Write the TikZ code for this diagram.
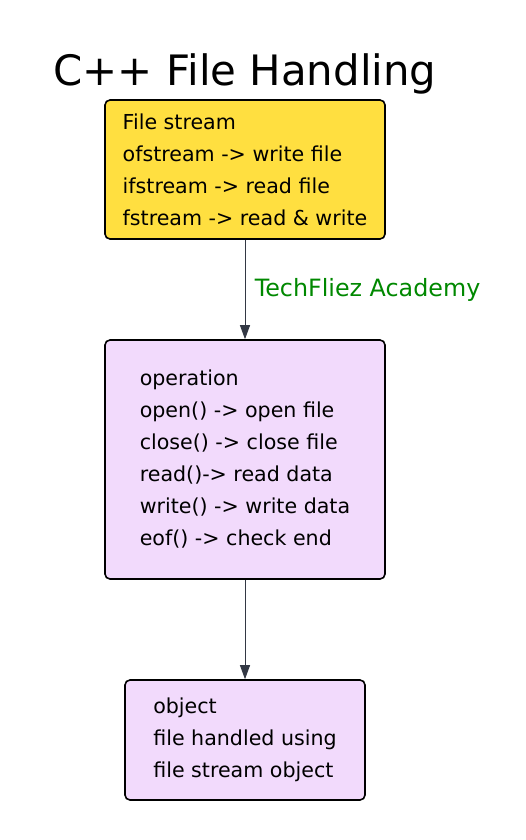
\documentclass[tikz,border=0pt]{standalone}
\usepackage{fontspec}
\setmainfont{DejaVu Sans}
\usetikzlibrary{arrows.meta}
\definecolor{boxyellow}{RGB}{255,223,64}
\definecolor{boxlilac}{RGB}{242,218,252}
\definecolor{edgegray}{RGB}{51,56,68}
\definecolor{labelgreen}{RGB}{0,136,0}

\begin{document}
\begin{tikzpicture}[x=1pt, y=-1pt,
  box/.style={draw=black, line width=1.6pt, rounded corners=5pt, align=left, inner sep=0pt, font=\fontsize{20.6}{32}\selectfont},
  flow/.style={draw=edgegray, line width=1pt, -{Triangle[length=14pt,width=10pt]}}]
  \useasboundingbox (0,0) rectangle (525,840);
  \node (title) at (245,74) {\fontsize{41.9}{48}\selectfont C++ File Handling};
  \node[box, fill=boxyellow, minimum width=280pt, minimum height=139pt] (streams) at (245,169.5)
    {File stream\\ofstream -> write file\\ifstream -> read file\\fstream -> read \& write};
  \node[box, fill=boxlilac, minimum width=280pt, minimum height=239pt] (ops) at (245,459.5)
    {operation\\open() -> open file\\close() -> close file\\read()-> read data\\write() -> write data\\eof() -> check end};
  \node[box, fill=boxlilac, minimum width=240pt, minimum height=120pt] (obj) at (245,740)
    {object\\file handled using\\file stream object};
  \draw[flow] (streams) -- node[right=6pt, text=labelgreen, font=\fontsize{23.8}{28}\selectfont] {TechFliez Academy} (ops);
  \draw[flow] (ops) -- (obj);
\end{tikzpicture}
\end{document}
